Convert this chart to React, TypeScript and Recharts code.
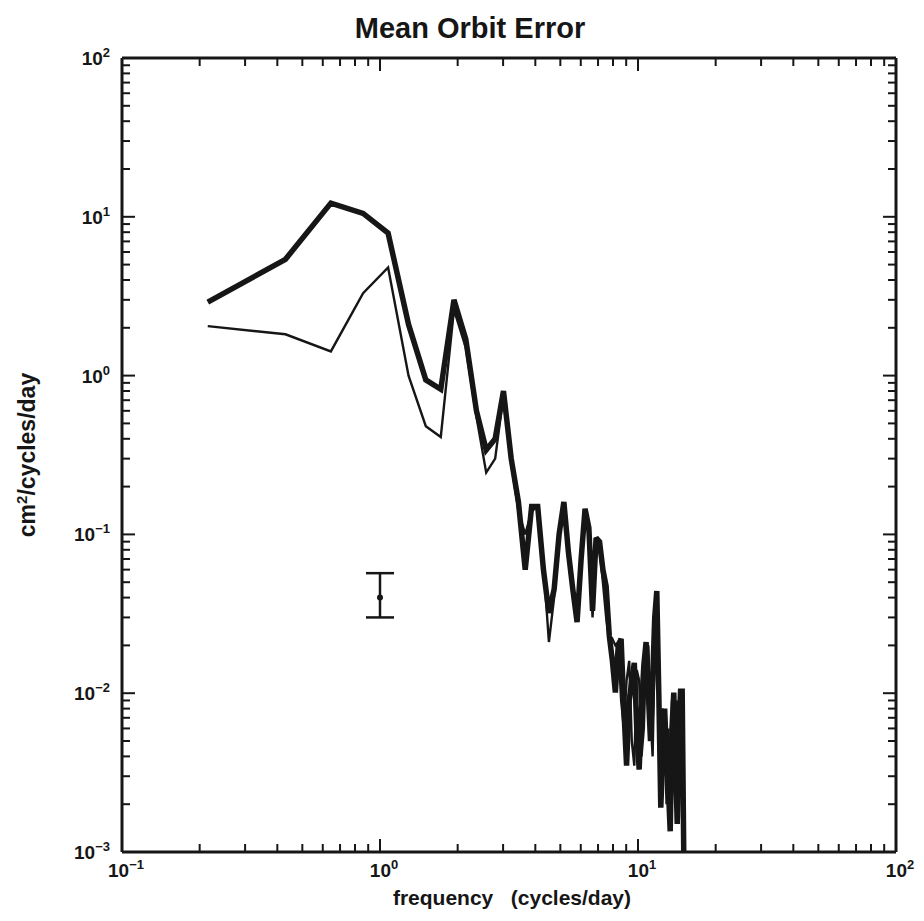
import React from 'react';
import { ComposedChart, Line, XAxis, YAxis, Scatter, ErrorBar } from 'recharts';

// frequency (cycles/day)
const frequency = [
  0.215, 0.43, 0.645, 0.86, 1.075, 1.29, 1.505, 1.72, 1.935, 2.15,
  2.365, 2.58, 2.795, 3.01, 3.225, 3.44, 3.655, 3.87, 4.085, 4.3,
  4.515, 4.73, 4.945, 5.16, 5.375, 5.59, 5.805, 6.02, 6.235, 6.45,
  6.665, 6.88, 7.095, 7.31, 7.525, 7.74, 7.955, 8.17, 8.385, 8.6,
  8.815, 9.03, 9.245, 9.46, 9.675, 9.89, 10.105, 10.32, 10.535, 10.75,
  10.965, 11.18, 11.395, 11.61, 11.825, 12.04, 12.255, 12.47, 12.685, 12.9,
  13.115, 13.33, 13.545, 13.76, 13.975, 14.19, 14.405, 14.62, 14.835, 15.05,
];

// heavy curve (cm^2/cycles/day)
const heavySpectrum = [
  2.9, 5.4, 12.2, 10.5, 7.9, 2.1, 0.94, 0.82, 3.0, 1.7,
  0.6, 0.34, 0.4, 0.8, 0.3, 0.16, 0.06, 0.15, 0.15, 0.06,
  0.032, 0.045, 0.1, 0.16, 0.077, 0.045, 0.028, 0.07, 0.145, 0.11,
  0.033, 0.095, 0.09, 0.06, 0.047, 0.023, 0.016, 0.0101, 0.02, 0.022,
  0.008, 0.0035, 0.009, 0.012, 0.0155, 0.006, 0.0033, 0.008, 0.015, 0.021,
  0.01, 0.005, 0.012, 0.03, 0.044, 0.01, 0.0019, 0.004, 0.008, 0.004,
  0.0025, 0.00135, 0.006, 0.0101, 0.004, 0.0015, 0.006, 0.0103, 0.0103, 0.0009,
];

// thin curve (cm^2/cycles/day)
const thinSpectrum = [
  2.05, 1.82, 1.42, 3.3, 4.8, 1.0, 0.48, 0.41, 2.6, 1.5,
  0.55, 0.245, 0.3, 0.75, 0.28, 0.14, 0.1, 0.14, 0.15, 0.065,
  0.021, 0.04, 0.1, 0.15, 0.08, 0.04, 0.03, 0.08, 0.13, 0.1,
  0.03, 0.09, 0.08, 0.05, 0.03, 0.021, 0.022, 0.02, 0.021, 0.009,
  0.006, 0.012, 0.016, 0.005, 0.0035, 0.014, 0.012, 0.004, 0.006, 0.018,
  0.02, 0.007, 0.004, 0.02, 0.04, 0.006, 0.003, 0.008, 0.0055, 0.002,
  0.006, 0.0018, 0.009, 0.004, 0.002, 0.009, 0.0016, 0.009, 0.01, 0.0009,
];

// representative error bar
const errorFreq = [1.0];
const errorValue = [0.04];
const errorLow = [0.01];
const errorHigh = [0.017];

const xTickValues = [
  0.1, 0.2, 0.3, 0.4, 0.5, 0.6, 0.7, 0.8, 0.9,
  1, 2, 3, 4, 5, 6, 7, 8, 9,
  10, 20, 30, 40, 50, 60, 70, 80, 90, 100,
];
const yTickValues = [
  0.001, 0.002, 0.003, 0.004, 0.005, 0.006, 0.007, 0.008, 0.009,
  0.01, 0.02, 0.03, 0.04, 0.05, 0.06, 0.07, 0.08, 0.09,
  0.1, 0.2, 0.3, 0.4, 0.5, 0.6, 0.7, 0.8, 0.9,
  1, 2, 3, 4, 5, 6, 7, 8, 9,
  10, 20, 30, 40, 50, 60, 70, 80, 90, 100,
];

const rows = frequency.map((f, i) => ({ f, heavy: heavySpectrum[i], thin: thinSpectrum[i] }));
const errRows = errorFreq.map((f, i) => ({ f, v: errorValue[i], err: [errorLow[i], errorHigh[i]] }));

const INK = '#161616';
const FONT = '"Liberation Sans", Arial, Helvetica, sans-serif';
const MAJOR = 13;
const MINOR = 8;
const TS = 6;
const TM = 4;

const isMajor = (v: number) => Math.abs(Math.log10(v) - Math.round(Math.log10(v))) < 1e-6;
const gap = (p: any) => (typeof p.tickSize === 'number' ? p.tickSize : TS) + (typeof p.tickMargin === 'number' ? p.tickMargin : TM);

const PowerLabel = ({ x, y, v, anchor }: { x: number; y: number; v: number; anchor: string }) => {
  const e = Math.round(Math.log10(v));
  return (
    <text x={x} y={y} textAnchor={anchor} fontFamily={FONT} fontWeight="bold" fontSize={19} fill={INK}>
      <tspan>10</tspan>
      <tspan dy={-8} fontSize={13}>{e < 0 ? `\u2212${-e}` : `${e}`}</tspan>
    </text>
  );
};

const BottomTick = (props: any) => {
  const { x, payload } = props;
  const edge = props.y - gap(props);
  const m = isMajor(payload.value);
  return (
    <g>
      <line x1={x} y1={edge} x2={x} y2={edge - (m ? MAJOR : MINOR)} stroke={INK} strokeWidth={2} />
      {m && <PowerLabel x={x + 4} y={edge + 25} v={payload.value} anchor="middle" />}
    </g>
  );
};

const TopTick = (props: any) => {
  const { x, payload } = props;
  const edge = props.y + gap(props);
  const m = isMajor(payload.value);
  return <line x1={x} y1={edge} x2={x} y2={edge + (m ? MAJOR : MINOR)} stroke={INK} strokeWidth={2} />;
};

const LeftTick = (props: any) => {
  const { y, payload } = props;
  const edge = props.x + gap(props);
  const m = isMajor(payload.value);
  return (
    <g>
      <line x1={edge} y1={y} x2={edge + (m ? MAJOR : MINOR)} y2={y} stroke={INK} strokeWidth={2} />
      {m && <PowerLabel x={edge - 12} y={y + 7} v={payload.value} anchor="end" />}
    </g>
  );
};

const RightTick = (props: any) => {
  const { y, payload } = props;
  const edge = props.x - gap(props);
  const m = isMajor(payload.value);
  return <line x1={edge} y1={y} x2={edge - (m ? MAJOR : MINOR)} y2={y} stroke={INK} strokeWidth={2} />;
};

const axisLine = { stroke: INK, strokeWidth: 3 };

export default function App() {
  return (
    <div style={{ position: 'relative', width: 908, height: 905, background: '#fff', fontFamily: FONT }}>
      <div
        style={{
          position: 'absolute', left: 262, top: 4, width: 400, textAlign: 'center',
          fontSize: 29, fontWeight: 'bold', color: INK, whiteSpace: 'nowrap',
        }}
      >
        Mean Orbit Error
      </div>
      <div
        style={{
          position: 'absolute', left: 304, top: 878, width: 400, textAlign: 'center',
          fontSize: 21, fontWeight: 'bold', color: INK, whiteSpace: 'pre',
        }}
      >
        {'frequency   (cycles/day)'}
      </div>
      <div
        style={{
          position: 'absolute', left: 19, top: 447, transform: 'translate(-50%, -50%) rotate(-90deg)',
          fontSize: 23, fontWeight: 'bold', color: INK, whiteSpace: 'nowrap',
        }}
      >
        cm<sup style={{ fontSize: 15 }}>2</sup>/cycles/day
      </div>
      <ComposedChart
        width={908}
        height={905}
        data={rows}
        margin={{ top: 40, right: 10, bottom: 21, left: 54 }}
      >
        <XAxis
          xAxisId="b" dataKey="f" type="number" scale="log" domain={[0.1, 100]} allowDataOverflow
          ticks={xTickValues} interval={0} tickSize={TS} tickMargin={TM} height={40}
          axisLine={axisLine} tickLine={false} tick={<BottomTick />}
        />
        <XAxis
          xAxisId="t" orientation="top" dataKey="f" type="number" scale="log" domain={[0.1, 100]} allowDataOverflow
          ticks={xTickValues} interval={0} tickSize={TS} tickMargin={TM} height={10}
          axisLine={axisLine} tickLine={false} tick={<TopTick />}
        />
        <YAxis
          yAxisId="l" type="number" scale="log" domain={[0.001, 100]} allowDataOverflow
          ticks={yTickValues} interval={0} tickSize={TS} tickMargin={TM} width={60}
          axisLine={axisLine} tickLine={false} tick={<LeftTick />}
        />
        <YAxis
          yAxisId="r" orientation="right" type="number" scale="log" domain={[0.001, 100]} allowDataOverflow
          ticks={yTickValues} interval={0} tickSize={TS} tickMargin={TM} width={10}
          axisLine={axisLine} tickLine={false} tick={<RightTick />}
        />
        <Line
          xAxisId="b" yAxisId="l" dataKey="heavy" type="linear" stroke={INK} strokeWidth={5.5}
          strokeLinejoin="miter" strokeMiterlimit={2.5} dot={false} activeDot={false} isAnimationActive={false}
        />
        <Line
          xAxisId="t" yAxisId="r" dataKey="thin" type="linear" stroke={INK} strokeWidth={2.4}
          strokeLinejoin="miter" strokeMiterlimit={3} dot={false} activeDot={false} isAnimationActive={false}
        />
        <Scatter
          xAxisId="b" yAxisId="l" data={errRows} dataKey="v" fill={INK}
          shape={(p: any) => <circle cx={p.cx} cy={p.cy} r={3} fill={INK} />}
          isAnimationActive={false}
        >
          <ErrorBar dataKey="err" direction="y" width={14} stroke={INK} strokeWidth={2.5} isAnimationActive={false} />
        </Scatter>
      </ComposedChart>
    </div>
  );
}
